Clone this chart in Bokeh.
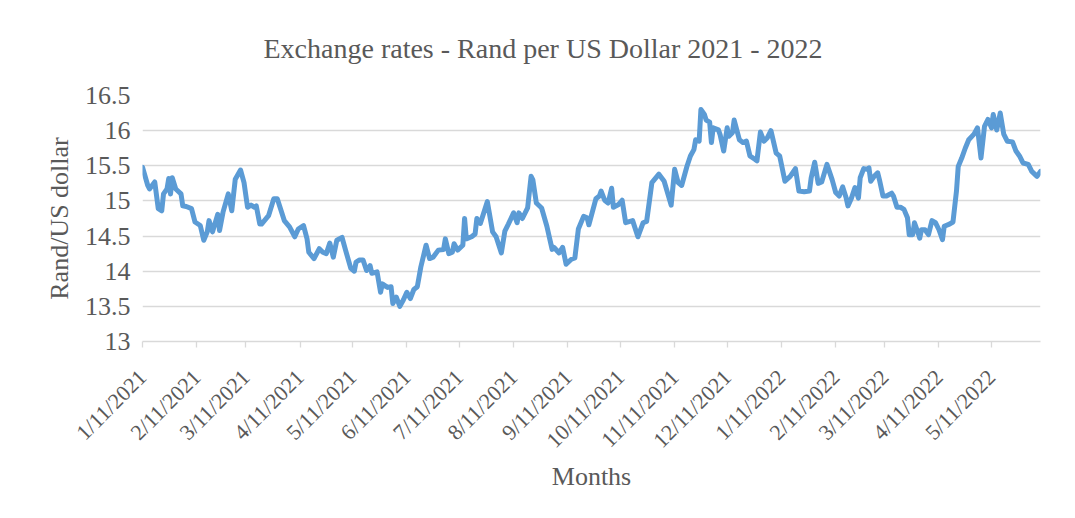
import pandas as pd
from bokeh.plotting import figure
from bokeh.models import Range1d, FixedTicker, CustomJSTickFormatter
from bokeh.embed import file_html
from bokeh.resources import INLINE
from math import pi

start_date = "2021-01-11"

days = [
    0, 3, 4, 7, 9, 11, 12, 14, 15, 16, 17, 19, 22, 23, 25, 28, 30, 33, 35, 37,
    38, 40, 43, 44, 46, 49, 51, 53, 56, 58, 60, 62, 64, 65, 67, 68, 72, 75, 77, 81,
    84, 87, 89, 92, 94, 95, 98, 101, 103,
    105, 107, 109, 111, 114, 116, 119, 121, 122, 124, 126, 128, 130, 131, 134, 136, 137, 140, 142, 143,
    145, 147, 149, 151, 153, 155, 157, 159, 162, 164, 166, 169, 172, 173, 175, 177, 178, 180, 183, 184,
    185, 188, 190, 191, 193, 197, 200, 202,
    205, 207, 209, 212, 214, 215, 217, 220, 222, 223, 225, 228, 231, 234, 235, 238, 240, 242, 245, 247,
    249, 252, 254, 255, 259, 261, 262, 264, 266, 268, 269, 272, 274, 276, 280, 283, 286, 288, 291, 295,
    298, 302, 304, 306, 308,
    311, 313, 315, 316, 318, 319, 321, 322, 324, 325, 326, 329, 330, 332, 334, 335, 337, 338, 341, 343,
    345, 347, 350, 351, 353, 355, 357, 359, 362, 364, 367, 370, 373, 375, 378, 381, 382, 384, 386, 388,
    391, 394, 396, 398, 400, 402, 403, 405, 407, 409, 410, 412,
    414, 415, 416, 418, 420, 421, 423, 425, 428, 429, 431, 433, 435, 437, 438, 440, 441, 443, 444, 445,
    447, 449, 451, 453, 455, 457, 458, 461, 463, 465, 466, 468, 470, 472, 475, 477, 479, 481, 483, 485,
    486, 488, 490, 492, 494, 497, 499, 501, 503, 506, 508, 511, 513,
]

rates = [
    15.48, 15.22, 15.17, 15.27, 14.89, 14.86, 15.10, 15.17, 15.32, 15.10, 15.33, 15.17, 15.10, 14.93, 14.92, 14.89, 14.70, 14.65, 14.44, 14.56,
    14.72, 14.56, 14.81, 14.58, 14.84, 15.10, 14.86, 15.31, 15.44, 15.26, 14.91, 14.94, 14.91, 14.93, 14.67, 14.67, 14.79, 15.03, 15.03, 14.72,
    14.63, 14.49, 14.60, 14.65, 14.46, 14.27, 14.18, 14.32, 14.27,
    14.25, 14.40, 14.20, 14.44, 14.48, 14.30, 14.04, 14.00, 14.13, 14.16, 14.16, 14.01, 14.08, 13.97, 13.99, 13.70, 13.82, 13.77, 13.78, 13.54,
    13.63, 13.50, 13.59, 13.70, 13.61, 13.74, 13.78, 14.06, 14.37, 14.18, 14.20, 14.30, 14.31, 14.46, 14.25, 14.27, 14.39, 14.30, 14.37, 14.75,
    14.46, 14.49, 14.53, 14.75, 14.68, 14.99, 14.56, 14.49,
    14.26, 14.57, 14.67, 14.83, 14.69, 14.83, 14.75, 14.90, 15.35, 15.30, 14.97, 14.90, 14.64, 14.31, 14.34, 14.26, 14.34, 14.10, 14.17, 14.19,
    14.60, 14.78, 14.76, 14.66, 15.03, 15.07, 15.14, 15.01, 14.97, 15.18, 14.91, 14.95, 15.01, 14.69, 14.72, 14.49, 14.69, 14.71, 15.26, 15.38,
    15.28, 14.94, 15.45, 15.26, 15.22,
    15.49, 15.64, 15.73, 15.87, 15.85, 16.30, 16.23, 16.15, 16.12, 15.83, 16.04, 16.01, 15.94, 15.71, 16.04, 15.92, 15.97, 16.15, 15.87, 15.83,
    15.85, 15.64, 15.59, 15.57, 15.98, 15.85, 15.90, 16.00, 15.68, 15.64, 15.28, 15.35, 15.46, 15.14, 15.13, 15.14, 15.33, 15.55, 15.25, 15.27,
    15.52, 15.30, 15.12, 15.07, 15.20, 15.04, 14.93, 15.04, 15.19, 15.04, 15.33, 15.46,
    15.45, 15.47, 15.28, 15.35, 15.40, 15.30, 15.07, 15.07, 15.11, 15.07, 14.91, 14.91, 14.88, 14.76, 14.52, 14.52, 14.69, 14.55, 14.47, 14.59,
    14.59, 14.52, 14.72, 14.69, 14.59, 14.45, 14.64, 14.67, 14.70, 15.14, 15.49, 15.61, 15.75, 15.87, 15.95, 16.04, 15.61, 16.06, 16.16, 16.04,
    16.23, 16.01, 16.25, 15.95, 15.85, 15.84, 15.71, 15.64, 15.54, 15.52, 15.42, 15.35, 15.42,
]

tick_labels = [
    "1/11/2021", "2/11/2021", "3/11/2021", "4/11/2021", "5/11/2021", "6/11/2021",
    "7/11/2021", "8/11/2021", "9/11/2021", "10/11/2021", "11/11/2021", "12/11/2021",
    "1/11/2022", "2/11/2022", "3/11/2022", "4/11/2022", "5/11/2022",
]
y_ticks = [13, 13.5, 14, 14.5, 15, 15.5, 16, 16.5]

title_text = "Exchange rates - Rand per US Dollar 2021 - 2022"
x_title = "Months"
y_title = "Rand/US dollar"

start = pd.Timestamp(start_date)
tick_pos = [int((pd.to_datetime(t, format="%m/%d/%Y") - start).days) for t in tick_labels]

FONT = "Liberation Serif"
TXT = "#595959"
GRID = "#d9d9d9"

p = figure(
    frame_width=898, frame_height=246,
    min_border_left=142, min_border_right=27, min_border_top=95, min_border_bottom=160,
    x_range=Range1d(0, 513), y_range=Range1d(13, 16.5),
    output_backend="svg", toolbar_location=None,
    title=title_text,
)
p.background_fill_color = "white"
p.border_fill_color = "white"
p.outline_line_color = None

p.title.text_font = FONT
p.title.text_font_size = "28px"
p.title.text_font_style = "normal"
p.title.text_color = TXT
p.title.align = "left"
p.title.offset = 121
p.title.vertical_align = "top"
p.title.standoff = 59

p.line(days, rates, line_color="#5B9BD5", line_width=5, line_join="round", line_cap="round")

p.xgrid.grid_line_color = None
p.ygrid.grid_line_color = GRID
p.ygrid.grid_line_width = 1.3
p.yaxis.ticker = FixedTicker(ticks=y_ticks)
p.yaxis.formatter = CustomJSTickFormatter(code="return String(tick);")
p.yaxis.axis_line_color = None
p.yaxis.major_tick_line_color = None
p.yaxis.major_tick_in = 0
p.yaxis.major_tick_out = 0
p.yaxis.minor_tick_line_color = None
p.yaxis.major_label_standoff = 12
p.yaxis.major_label_text_font = FONT
p.yaxis.major_label_text_font_size = "26px"
p.yaxis.major_label_text_color = TXT
p.yaxis.axis_label = y_title
p.yaxis.axis_label_text_font = FONT
p.yaxis.axis_label_text_font_size = "26px"
p.yaxis.axis_label_text_font_style = "normal"
p.yaxis.axis_label_text_color = TXT
p.yaxis.axis_label_standoff = 8

p.xaxis.ticker = FixedTicker(ticks=tick_pos)
p.xaxis.major_label_overrides = {pos: lab for pos, lab in zip(tick_pos, tick_labels)}
p.xaxis.major_label_orientation = pi / 4
p.xaxis.axis_line_color = GRID
p.xaxis.axis_line_width = 1.3
p.xaxis.major_tick_line_color = GRID
p.xaxis.major_tick_line_width = 1.3
p.xaxis.major_tick_in = 0
p.xaxis.major_tick_out = 6
p.xaxis.minor_tick_line_color = None
p.xaxis.major_label_standoff = 26
p.xaxis.major_label_text_font = FONT
p.xaxis.major_label_text_font_size = "22px"
p.xaxis.major_label_text_color = TXT
p.xaxis.axis_label = x_title
p.xaxis.axis_label_text_font = FONT
p.xaxis.axis_label_text_font_size = "26px"
p.xaxis.axis_label_text_font_style = "normal"
p.xaxis.axis_label_text_color = TXT
p.xaxis.axis_label_standoff = -2

open("out.html", "w").write(file_html(p, INLINE))
